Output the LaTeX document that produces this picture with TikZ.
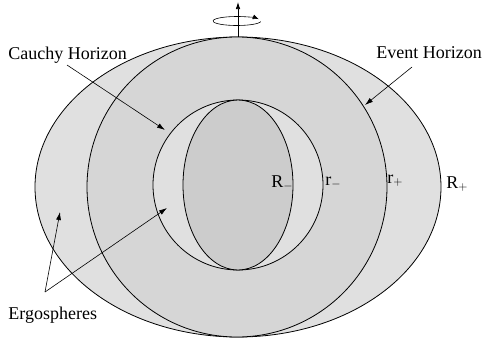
\documentclass[tikz,border=0pt]{standalone}
\usepackage{fontspec}
\setmainfont{Liberation Serif}
\usetikzlibrary{arrows.meta}
\definecolor{ergo}{RGB}{224,224,224}
\definecolor{midg}{RGB}{214,214,214}
\definecolor{inng}{RGB}{204,204,204}
\begin{document}
\begin{tikzpicture}[x=1pt,y=-1pt, line width=0.8pt,
  lbl/.style={font=\fontsize{18}{20}\selectfont, inner sep=0pt, anchor=base west},
  pointer/.style={-{Latex[length=8pt,width=5pt]}, line width=0.6pt}]
\useasboundingbox (0,0) rectangle (483,343);
% shapes
\filldraw[fill=ergo] (238,187) ellipse [x radius=203, y radius=150];
\filldraw[fill=midg] (237,187) circle [radius=150];
\filldraw[fill=ergo] (238,185) circle [radius=85];
\filldraw[fill=inng] (238,185) ellipse [x radius=55, y radius=85];
% rotation axis
\coordinate (axisBase) at (238,37);
\coordinate (axisTop) at (238,2);
\draw[-{Latex[length=7pt,width=4.5pt]}, line width=0.7pt] (axisBase) -- (axisTop);
\draw[-{Latex[length=6pt,width=5pt]}, line width=0.6pt] (237,21) ++(8:24 and 4.5) arc [start angle=8, end angle=335, x radius=24, y radius=4.5];
% labels
\node[lbl] (cauchy) at (8,59) {Cauchy Horizon};
\node[lbl] (event) at (376,58) {Event Horizon};
\node[lbl] (ergos) at (8,319) {Ergospheres};
\node[lbl] (Rm) at (271,187) {R$_{-}$};
\node[lbl] (rm) at (325,185) {r$_{-}$};
\node[lbl] (rp) at (387,183) {r$_{+}$};
\node[lbl] (Rp) at (446,188) {R$_{+}$};
% pointers
\coordinate (cS) at (67,65);
\coordinate (cT) at (165,130);
\coordinate (eS) at (412,67);
\coordinate (eT) at (365,105);
\coordinate (gS) at (45,292);
\coordinate (gT1) at (60,212);
\coordinate (gT2) at (167,208);
\draw[pointer] (cS) -- (cT);
\draw[pointer] (eS) -- (eT);
\draw[pointer] (gS) -- (gT1);
\draw[pointer] (gS) -- (gT2);
\end{tikzpicture}
\end{document}
